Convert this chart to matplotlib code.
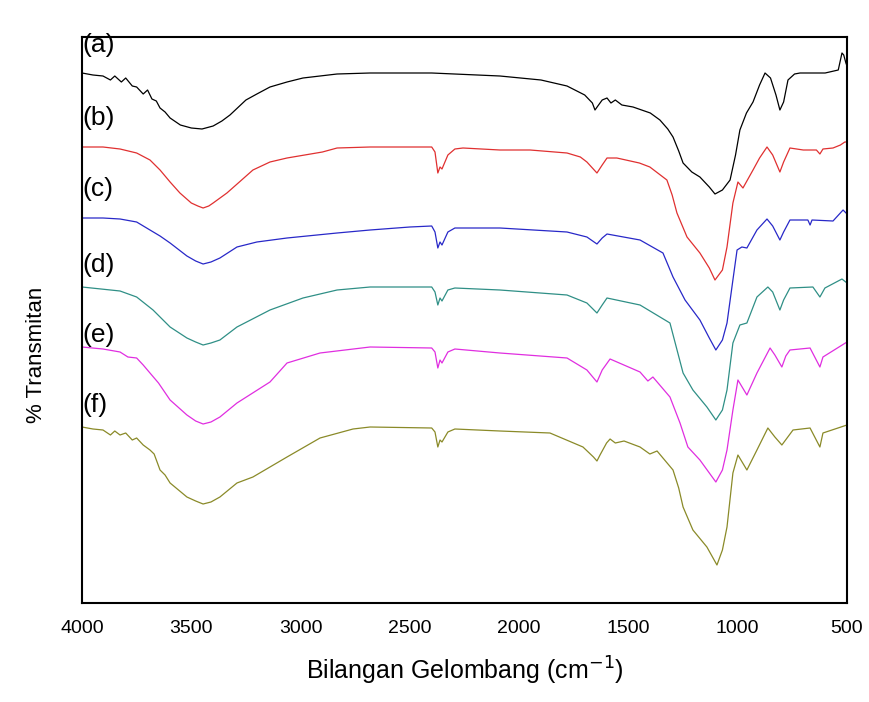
import matplotlib
matplotlib.use("Agg")
import matplotlib.pyplot as plt

plt.rcParams['font.family'] = ['Liberation Sans', 'DejaVu Sans']

# wavenumbers (cm-1) and stacked transmittance (arbitrary, offset units)
wn_a = [4000, 3950, 3904, 3870, 3850, 3820, 3800, 3770, 3750, 3720, 3700, 3680, 3660, 3643,
        3620, 3597, 3550, 3500, 3451, 3400, 3360, 3323, 3250, 3200, 3140, 3062, 2989, 2911,
        2833, 2682, 2400, 2088, 1900, 1781, 1700, 1665, 1653, 1640, 1620, 1598, 1580, 1560,
        1530, 1479, 1400, 1356, 1320, 1296, 1270, 1250, 1210, 1173, 1130, 1104, 1070, 1035,
        1010, 990, 960, 930, 900, 875, 850, 825, 807, 790, 770, 740, 715, 600, 540, 523,
        515, 505, 500]
t_a = [530, 528, 527, 523, 527, 521, 525, 517, 516, 509, 513, 504, 502, 495,
       491, 485, 478, 475, 474, 477, 482, 488, 503, 509, 516, 521, 525, 527,
       529, 530, 530, 527, 523, 517, 508, 500, 493, 497, 503, 505, 500, 503,
       498, 496, 490, 483, 474, 466, 452, 440, 431, 426, 416, 409, 413, 423,
       448, 473, 490, 501, 518, 530, 525, 508, 493, 501, 523, 529, 530, 530, 533, 550,
       548, 540, 537]

wn_b = [4000, 3904, 3826, 3750, 3689, 3643, 3597, 3552, 3500, 3470, 3446, 3420, 3400, 3337,
        3280, 3218, 3140, 3062, 2900, 2833, 2682, 2400, 2385, 2372, 2362, 2353, 2326, 2294,
        2257, 2088, 1950, 1781, 1720, 1690, 1644, 1620, 1598, 1553, 1450, 1402, 1324, 1300,
        1278, 1232, 1173, 1130, 1104, 1070, 1049, 1022, 999, 976, 930, 900, 866, 840, 807,
        790, 761, 700, 640, 624, 610, 564, 530, 510, 500]
t_b = [456, 456, 454, 450, 443, 433, 421, 410, 400, 397, 395, 397, 400, 410,
       421, 433, 441, 445, 451, 455, 456, 456, 451, 430, 436, 434, 448, 454,
       455, 453, 453, 450, 446, 441, 430, 438, 445, 445, 440, 436, 423, 408,
       390, 366, 350, 335, 323, 333, 356, 400, 421, 415, 433, 445, 456, 448, 431,
       441, 455, 453, 453, 449, 454, 455, 458, 461, 461]

wn_c = [4000, 3904, 3826, 3750, 3689, 3643, 3597, 3520, 3480, 3446, 3410, 3369, 3291, 3200,
        3062, 2833, 2682, 2500, 2400, 2385, 2372, 2362, 2353, 2326, 2294, 2088, 1781, 1690,
        1644, 1620, 1598, 1447, 1342, 1296, 1241, 1173, 1130, 1100, 1070, 1049, 1022, 1003,
        981, 958, 912, 866, 840, 807, 790, 761, 679, 669, 660, 564, 518, 500]
t_c = [385, 385, 384, 381, 373, 367, 360, 347, 342, 339, 341, 345, 356, 361,
       365, 370, 373, 376, 377, 371, 355, 361, 358, 371, 375, 375, 371, 366,
       359, 365, 369, 363, 350, 326, 303, 283, 265, 253, 263, 280, 323, 353,
       356, 355, 373, 384, 377, 363, 371, 383, 383, 378, 383, 382, 393, 389]

wn_d = [4000, 3826, 3750, 3675, 3597, 3520, 3480, 3446, 3410, 3369, 3291, 3140, 2989, 2833,
        2682, 2400, 2385, 2372, 2362, 2353, 2326, 2294, 2088, 1781, 1690, 1644, 1620, 1598,
        1447, 1310, 1280, 1250, 1205, 1141, 1100, 1070, 1049, 1022, 990, 958, 912, 862,
        840, 807, 790, 761, 656, 624, 601, 523, 500]
t_d = [316, 312, 306, 293, 276, 265, 261, 258, 260, 263, 276, 293, 305, 313,
       316, 316, 311, 298, 305, 302, 313, 315, 313, 308, 300, 290, 298, 305,
       298, 280, 255, 230, 213, 196, 183, 193, 213, 260, 278, 280, 306, 316,
       311, 293, 303, 315, 316, 306, 315, 324, 320]

wn_e = [4000, 3904, 3826, 3790, 3750, 3720, 3689, 3650, 3597, 3520, 3480, 3446, 3410, 3369,
        3291, 3140, 3062, 2911, 2682, 2400, 2385, 2372, 2362, 2353, 2326, 2294, 2088, 1781,
        1690, 1644, 1620, 1584, 1447, 1411, 1388, 1310, 1264, 1228, 1173, 1100, 1070, 1049,
        1022, 999, 958, 912, 852, 830, 798, 780, 761, 669, 624, 610, 500]
t_e = [256, 254, 251, 246, 245, 238, 230, 220, 203, 188, 182, 179, 181, 186,
       200, 221, 240, 250, 256, 255, 251, 235, 243, 240, 251, 254, 250, 245,
       233, 221, 233, 244, 231, 222, 226, 206, 180, 156, 143, 121, 133, 153,
       193, 223, 208, 230, 255, 248, 236, 247, 253, 255, 236, 246, 261]

wn_f = [4000, 3950, 3904, 3870, 3850, 3826, 3800, 3770, 3750, 3720, 3689, 3670, 3643, 3620,
        3597, 3520, 3480, 3446, 3410, 3369, 3291, 3218, 3062, 2911, 2760, 2682, 2400, 2385,
        2372, 2362, 2353, 2326, 2294, 2088, 1859, 1708, 1660, 1644, 1630, 1620, 1600, 1584,
        1560, 1520, 1447, 1402, 1369, 1296, 1270, 1250, 1205, 1141, 1095, 1070, 1049, 1022,
        999, 958, 912, 862, 830, 798, 747, 669, 624, 610, 500]
t_f = [176, 174, 173, 168, 172, 168, 170, 163, 165, 158, 153, 149, 133, 128,
       120, 106, 102, 99, 101, 106, 120, 126, 146, 165, 174, 176, 175, 171,
       156, 163, 161, 171, 174, 172, 170, 156, 146, 142, 148, 152, 160, 164,
       160, 162, 156, 149, 152, 133, 115, 96, 73, 56, 38, 53, 76, 130,
       148, 133, 153, 175, 166, 158, 173, 175, 156, 170, 178]

spectra = [(wn_a, t_a, '#000000', '(a)'),
           (wn_b, t_b, '#e03030', '(b)'),
           (wn_c, t_c, '#2828c8', '(c)'),
           (wn_d, t_d, '#2f8f86', '(d)'),
           (wn_e, t_e, '#e02ee0', '(e)'),
           (wn_f, t_f, '#8a8a28', '(f)')]
label_y = [558, 485, 414, 338, 268, 198]

fig = plt.figure(figsize=(8.7, 7.02), dpi=100)
ax = fig.add_axes([82 / 870, 99 / 702, 765 / 870, 566 / 702])

for (wn, t, col, lab), ly in zip(spectra, label_y):
    ax.plot(wn, t, color=col, linewidth=0.9)
    ax.text(4000, ly, lab, fontsize=19, va='center', ha='left')

ax.set_xlim(4000, 500)
ax.set_ylim(0, 566)
ax.set_xticks([4000, 3500, 3000, 2500, 2000, 1500, 1000, 500])
ax.set_yticks([])
ax.tick_params(axis='x', length=0, pad=12, labelsize=14)
for s in ax.spines.values():
    s.set_linewidth(1.5)

ax.set_xlabel("Bilangan Gelombang (cm$^{-1}$)", fontsize=18, labelpad=13)
fig.text(37 / 870, 1 - 355 / 702, "% Transmitan", rotation=90, fontsize=16,
         ha='center', va='center')

fig.savefig("out.png", dpi=100)
